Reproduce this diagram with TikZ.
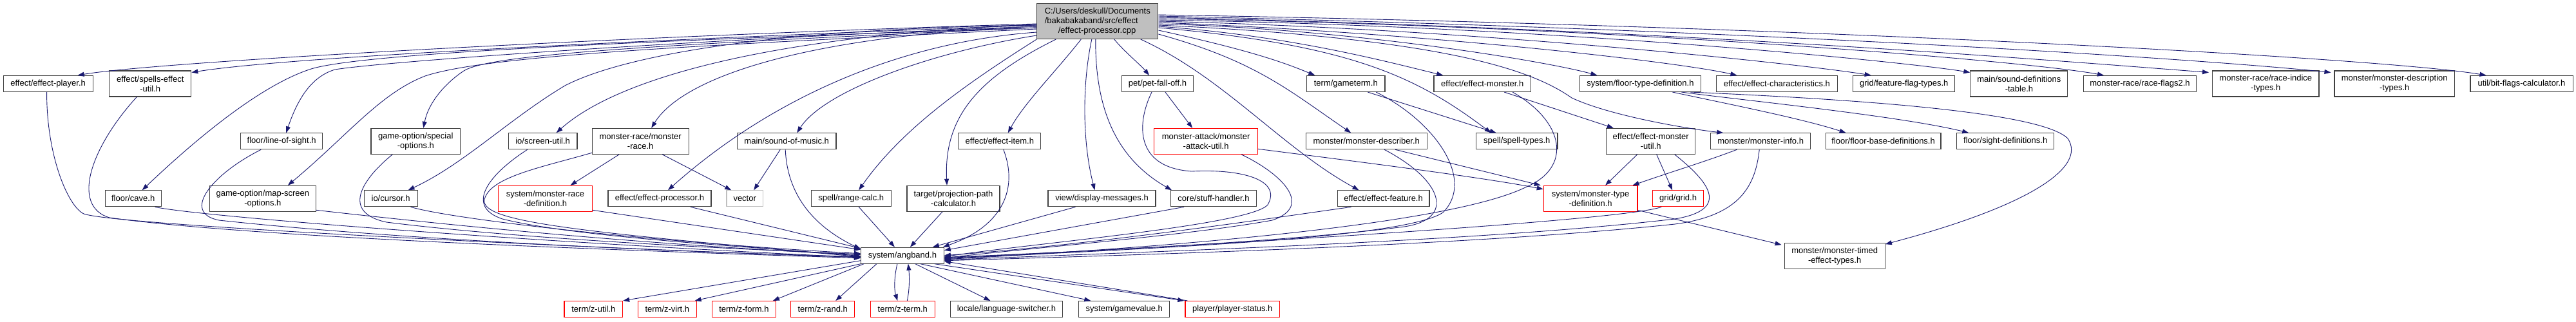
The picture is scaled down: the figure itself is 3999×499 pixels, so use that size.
\documentclass[tikz,border=0pt]{standalone}
\usepackage{fontspec}
\setmainfont{Liberation Sans}
\usetikzlibrary{arrows.meta}
\definecolor{navy}{HTML}{191970}
\definecolor{boxline}{HTML}{404040}
\newcommand{\fs}{\fontsize{13}{15}\selectfont}
\begin{document}
\begin{tikzpicture}[x=1pt,y=-1pt,
  nb/.style={draw=boxline, fill=white, line width=1.1pt, inner sep=0pt, align=center, font=\fs, minimum height=25},
  tw/.style={nb, minimum height=40},
  rd/.style={draw=red},
  gb/.style={draw=black!25},
  e/.style={draw=navy, line width=0.9pt, -{Triangle[length=10pt,width=7pt]}}]
\useasboundingbox[fill=white] (0,0) rectangle (3999,499);
% main
\node[nb, fill=black!25, minimum width=188, minimum height=55, align=left] (main) at (1703.8,33) {C:/Users/deskull/Documents\\/bakabakaband/src/effect\\\hspace*{21pt}/effect-processor.cpp};
% row 1
\node[nb, minimum width=139] (ep) at (74.6,130) {effect/effect-player.h};
\node[tw, minimum width=127] (seu) at (233.3,130) {effect/spells-effect\\-util.h};
\node[nb, minimum width=111] (pfo) at (1797,130) {pet/pet-fall-off.h};
\node[nb, minimum width=121.4] (gt) at (2089.3,130) {term/gameterm.h};
\node[nb, minimum width=150.5] (em) at (2301.2,130) {effect/effect-monster.h};
\node[nb, minimum width=188.2] (ftd) at (2546.4,130) {system/floor-type-definition.h};
\node[nb, minimum width=188.2] (ec) at (2758.4,130) {effect/effect-characteristics.h};
\node[nb, minimum width=157.9] (fft) at (2955.7,130) {grid/feature-flag-types.h};
\node[tw, minimum width=151] (sdt) at (3134.4,130) {main/sound-definitions\\-table.h};
\node[nb, minimum width=175] (rf2) at (3322,130) {monster-race/race-flags2.h};
\node[tw, minimum width=165.4] (rit) at (3517.3,130) {monster-race/race-indice\\-types.h};
\node[tw, minimum width=186.4] (mdt) at (3717.2,130) {monster/monster-description\\-types.h};
\node[nb, minimum width=159] (bfc) at (3914.5,130) {util/bit-flags-calculator.h};
% row 2
\node[nb, minimum width=126.6] (los) at (437.2,219.3) {floor/line-of-sight.h};
\node[tw, minimum width=138.6] (gso) at (645.3,219.3) {game-option/special\\-options.h};
\node[nb, minimum width=106.7] (su) at (842.6,219.3) {io/screen-util.h};
\node[tw, minimum width=149.7] (mr) at (994.2,219.3) {monster-race/monster\\-race.h};
\node[nb, minimum width=153.6] (som) at (1221.2,219.3) {main/sound-of-music.h};
\node[nb, minimum width=128] (ei) at (1551.8,219.3) {effect/effect-item.h};
\node[tw, rd, minimum width=160.4] (mau) at (1872.1,219.3) {monster-attack/monster\\-attack-util.h};
\node[nb, minimum width=187.8] (md) at (2121.2,219.3) {monster/monster-describer.h};
\node[nb, minimum width=126.6] (st) at (2354.7,219.3) {spell/spell-types.h};
\node[tw, minimum width=138.3] (emu) at (2562.7,219.3) {effect/effect-monster\\-util.h};
\node[nb, minimum width=155.3] (mi) at (2733.2,219.3) {monster/monster-info.h};
\node[nb, minimum width=178.7] (fbd) at (2923.6,219.3) {floor/floor-base-definitions.h};
\node[nb, minimum width=150.9] (sd) at (3113.2,219.3) {floor/sight-definitions.h};
% row 3
\node[nb, minimum width=87.2] (cave) at (206.7,308.3) {floor/cave.h};
\node[tw, minimum width=165.2] (mso) at (407.9,308.3) {game-option/map-screen\\-options.h};
\node[nb, minimum width=82.9] (cur) at (606.6,308.3) {io/cursor.h};
\node[tw, rd, minimum width=145.7] (mrd) at (846.5,308.3) {system/monster-race\\-definition.h};
\node[nb, minimum width=160] (ep2) at (1024,308.3) {effect/effect-processor.h};
\node[nb, gb, minimum width=56.4] (vec) at (1156.2,308.3) {vector};
\node[nb, minimum width=124.3] (rc) at (1321.2,308.3) {spell/range-calc.h};
\node[tw, minimum width=144] (ppc) at (1480,308.3) {target/projection-path\\-calculator.h};
\node[nb, minimum width=167] (dm) at (1710.5,308.3) {view/display-messages.h};
\node[nb, minimum width=132.3] (sh) at (1884,308.3) {core/stuff-handler.h};
\node[nb, minimum width=142.7] (ef) at (2147.6,308.3) {effect/effect-feature.h};
\node[tw, rd, minimum width=145.7] (mtd) at (2469.1,308.3) {system/monster-type\\-definition.h};
\node[nb, rd, minimum width=78.5] (grid) at (2605.1,308.3) {grid/grid.h};
% angband level
\node[nb, minimum width=128.8] (ang) at (1400.9,396.7) {system/angband.h};
\node[tw, minimum width=156.1] (mte) at (2848.2,397.7) {monster/monster-timed\\-effect-types.h};
% bottom row
\node[nb, rd, minimum width=90.6] (zu) at (921.3,480) {term/z-util.h};
\node[nb, rd, minimum width=90.6] (zv) at (1035.8,480) {term/z-virt.h};
\node[nb, rd, minimum width=98.9] (zf) at (1154.9,480) {term/z-form.h};
\node[nb, rd, minimum width=98.9] (zr) at (1277.2,480) {term/z-rand.h};
\node[nb, rd, minimum width=100.2] (zt) at (1401.3,480) {term/z-term.h};
\node[nb, minimum width=174.3] (ls) at (1562.4,480) {locale/language-switcher.h};
\node[nb, minimum width=141] (gv) at (1745.3,480) {system/gamevalue.h};
\node[nb, rd, minimum width=146.6] (ps) at (1913.3,480) {player/player-status.h};

% ---- edges from main, left side
\draw[e] ([yshift=-4]main.west) .. controls (1000,55) and (250,95) .. ([xshift=46]ep.north);
\draw[e] ([yshift=-6]main.west) .. controls (1000,62) and (450,88) .. ([yshift=-3]seu.north east);
\draw[e] ([yshift=-8]main.west) .. controls (1100,60) and (600,95) .. (520,108) .. controls (480,120) and (460,160) .. ([xshift=7]los.north);
\draw[e] ([yshift=-10]main.west) .. controls (1100,60) and (560,80) .. (480,108) .. controls (400,135) and (300,220) .. ([xshift=14]cave.north);
\draw[e] ([yshift=-10]main.west) .. controls (1000,70) and (760,85) .. (720,110) .. controls (690,130) and (665,160) .. ([xshift=12]gso.north);
\draw[e] ([yshift=-12]main.west) .. controls (1100,70) and (760,85) .. (660,118) .. controls (590,145) and (540,210) .. ([xshift=39]mso.north);
\draw[e] ([yshift=-6]main.west) .. controls (1150,45) and (950,95) .. (877,133) .. controls (790,185) and (720,255) .. ([xshift=27]cur.north);
\draw[e] ([yshift=-5]main.west) .. controls (1200,55) and (960,120) .. ([xshift=21]su.north);
\draw[e] ([yshift=-8]main.west) .. controls (1250,55) and (1060,120) .. ([xshift=17]mr.north);
\draw[e] ([yshift=-17]main.west) .. controls (1400,65) and (1200,150) .. ([xshift=13]ep2.north);
\draw[e] ([yshift=-22]main.west) .. controls (1450,80) and (1280,140) .. ([xshift=16]som.north);
\draw[e] (main.south west) .. controls (1500,130) and (1400,200) .. ([xshift=12]rc.north);
\draw[e] ([xshift=30]main.south west) .. controls (1520,120) and (1465,180) .. ([xshift=-10]ppc.north);
\draw[e] ([xshift=69]main.south west) .. controls (1640,110) and (1590,160) .. ([xshift=13]ei.north);
\draw[e] ([xshift=-9]main.south) .. controls (1680,130) and (1680,220) .. ([xshift=-11]dm.north);
\draw[e] ([xshift=-3]main.south) .. controls (1700,180) and (1740,250) .. ([xshift=-65]sh.north);
\draw[e] ([xshift=26]main.south) .. controls (1745,80) and (1770,100) .. ([xshift=-13]pfo.north);
% ---- edges from main, right side
\draw[e] ([xshift=67]main.south) .. controls (1900,120) and (1990,230) .. ([xshift=-38]ef.north);
\draw[e] ([yshift=-20]main.east) .. controls (1950,95) and (2000,140) .. ([xshift=-24]md.north);
\draw[e] ([yshift=-14]main.east) .. controls (1950,80) and (2000,100) .. ([xshift=-48]gt.north);
\draw[e] ([yshift=-10]main.east) .. controls (2100,70) and (2200,120) .. ([xshift=-40]st.north);
\draw[e] ([yshift=-8]main.east) .. controls (2000,55) and (2150,95) .. ([xshift=-61]em.north);
\draw[e] ([yshift=-4]main.east) .. controls (2100,45) and (2400,95) .. ([xshift=-67]ftd.north);
\draw[e] ([yshift=-6]main.east) .. controls (2250,60) and (2380,110) .. (2440,152) .. controls (2500,180) and (2620,200) .. ([xshift=-58]mi.north);
\draw[e] ([yshift=-2]main.east) .. controls (2200,50) and (2600,95) .. ([xshift=-62]ec.north);
\draw[e] (main.east) .. controls (2300,45) and (2800,100) .. ([xshift=-51]fft.north);
\draw[e] ([yshift=2]main.east) .. controls (2400,40) and (2950,95) .. ([yshift=-3]sdt.north west);
\draw[e] ([yshift=4]main.east) .. controls (2500,40) and (3150,95) .. ([xshift=-56]rf2.north);
\draw[e] ([yshift=6]main.east) .. controls (2600,45) and (3200,95) .. ([xshift=-5,yshift=-3]rit.north west);
\draw[e] ([yshift=8]main.east) .. controls (2700,45) and (3400,90) .. ([xshift=-5,yshift=-3]mdt.north west);
\draw[e] ([yshift=10]main.east) .. controls (2800,40) and (3700,90) .. ([xshift=-55]bfc.north);
% ---- other edges
\draw[e] ([xshift=12]pfo.south) -- ([xshift=-21]mau.north);
\draw[e] ([xshift=-9]pfo.south) .. controls (1765,190) and (1760,260) .. (1850,266) .. controls (1930,262) and (1990,280) .. (1968,318) .. controls (1940,350) and (1600,378) .. ([yshift=-2]ang.east);
\draw[e] ([yshift=-12]mau.east) .. controls (2100,250) and (2300,275) .. ([yshift=-6]mtd.north west);
\draw[e] ([xshift=55]mau.south) .. controls (1990,270) and (2040,320) .. (1975,342) .. controls (1850,365) and (1600,385) .. ([yshift=-4]ang.east);
\draw[e] ([xshift=6]ei.south) .. controls (1580,290) and (1560,350) .. ([xshift=-2]ang.north east);
\draw[e] ([xshift=-41]dm.south) -- ([xshift=-18]ang.north east);
\draw[e] ([xshift=-46]sh.south) -- ([yshift=8]ang.east);
\draw[e] ([xshift=12]rc.south) -- ([xshift=-12]ang.north);
\draw[e] ([xshift=-17]ppc.south) -- ([xshift=12]ang.north);
\draw[e] ([xshift=-10]som.south) -- ([xshift=14]vec.north);
\draw[e] ([xshift=-2]som.south) .. controls (1222,300) and (1260,350) .. ([yshift=10]ang.west);
\draw[e] ([xshift=-33]mr.south) -- ([xshift=39]mrd.north);
\draw[e] ([xshift=34]mr.south) -- ([xshift=-21]vec.north);
\draw[e] ([yshift=-18]mr.west) .. controls (840,260) and (760,275) .. (752,310) .. controls (745,345) and (900,360) .. ([yshift=-2]ang.west);
\draw[e] ([xshift=-24]su.south) .. controls (760,270) and (720,320) .. (780,340) .. controls (900,370) and (1200,385) .. ([yshift=-1]ang.west);
\draw[e] ([yshift=-18]mrd.east) -- ([yshift=9]ang.west);
\draw[e] ([xshift=48]ep2.south) -- ([yshift=11]ang.west);
\draw[e] ([xshift=-2]ep.south) .. controls (72,240) and (105,320) .. (130,332) .. controls (180,350) and (900,385) .. ([yshift=-3]ang.west);
\draw[e] ([xshift=-21]seu.south) .. controls (140,230) and (110,320) .. (170,338) .. controls (400,370) and (1000,390) .. ([yshift=-4]ang.west);
\draw[e] ([xshift=-32]los.south) .. controls (330,270) and (280,330) .. (340,342) .. controls (600,370) and (1000,390) .. ([yshift=-2]ang.west);
\draw[e] ([xshift=34]cave.south) .. controls (300,335) and (800,375) .. ([yshift=-3]ang.west);
\draw[e] ([yshift=-18]mso.east) .. controls (700,350) and (1000,380) .. ([yshift=1]ang.west);
\draw[e] ([xshift=-36]gso.south) .. controls (560,280) and (530,330) .. (600,345) .. controls (800,370) and (1100,385) .. ([yshift=2]ang.west);
\draw[e] ([xshift=31]cur.south) .. controls (700,340) and (1000,375) .. ([yshift=3]ang.west);
\draw[e] ([xshift=34]gt.south) -- ([xshift=-32]st.north);
\draw[e] ([xshift=47]gt.south) .. controls (2230,190) and (2290,280) .. (2240,330) .. controls (2180,370) and (1800,385) .. ([yshift=-5]ang.east);
\draw[e] ([xshift=34]em.south) -- ([xshift=-58]emu.north);
\draw[e] ([xshift=47]em.south) .. controls (2430,190) and (2440,260) .. (2370,290) .. controls (2250,350) and (1800,385) .. ([yshift=-6]ang.east);
\draw[e] ([xshift=28]md.south) .. controls (2240,280) and (2260,340) .. (2180,352) .. controls (2000,375) and (1700,390) .. ([yshift=-3]ang.east);
\draw[e] ([xshift=45]md.south) -- ([xshift=-4]mtd.north west);
\draw[e] ([xshift=-50]ef.south) .. controls (2000,335) and (1700,380) .. (ang.east);
\draw[e] ([xshift=-21]emu.south) -- ([xshift=23]mtd.north);
\draw[e] ([xshift=9]emu.south) -- ([xshift=-9]grid.north);
\draw[e] ([xshift=37]emu.south) .. controls (2650,280) and (2690,325) .. (2600,340) .. controls (2300,375) and (1800,390) .. ([yshift=-7]ang.east);
\draw[e] ([xshift=-37]mi.south) .. controls (2650,250) and (2600,265) .. ([xshift=-8]mtd.north east);
\draw[e] ([xshift=-2]mi.south) .. controls (2725,290) and (2700,335) .. (2600,348) .. controls (2300,380) and (1800,395) .. ([yshift=-8]ang.east);
\draw[e] ([xshift=-26]grid.south) .. controls (2530,340) and (2000,375) .. ([yshift=-4]ang.east);
\draw[e] ([yshift=-18]mtd.east) -- ([xshift=-4,yshift=-3]mte.north west);
\draw[e] ([xshift=50]ftd.south) .. controls (2700,165) and (2800,185) .. ([xshift=-58]fbd.north);
\draw[e] ([xshift=64]ftd.south) .. controls (2700,155) and (2950,180) .. ([xshift=-57]sd.north);
\draw[e] ([xshift=78]ftd.south) .. controls (2900,155) and (3170,175) .. (3210,215) .. controls (3240,260) and (3150,320) .. ([yshift=-2]mte.north east);
% ---- from angband down
\draw[e] ([yshift=-8]ang.west) -- (zu.north east);
\draw[e] (ang.south west) -- ([xshift=-3]zv.north east);
\draw[e] ([xshift=5]ang.south west) -- ([xshift=45]zf.north);
\draw[e] ([xshift=-40]ang.south) -- ([xshift=20]zr.north);
\draw[e] ([xshift=-8]ang.south) .. controls (1388,430) and (1388,450) .. ([xshift=-8]zt.north);
\draw[e] ([xshift=7]zt.north) .. controls (1412,450) and (1412,430) .. ([xshift=9]ang.south);
\draw[e] ([xshift=20]ang.south) -- ([xshift=-25]ls.north);
\draw[e] ([xshift=28]ang.south) -- ([xshift=-52]gv.north);
\draw[e] ([xshift=-15]ang.south east) -- ([xshift=-75]ps.north);
\draw[e] ([xshift=-70]ps.north) -- ([yshift=-9]ang.east);
\end{tikzpicture}
\end{document}
